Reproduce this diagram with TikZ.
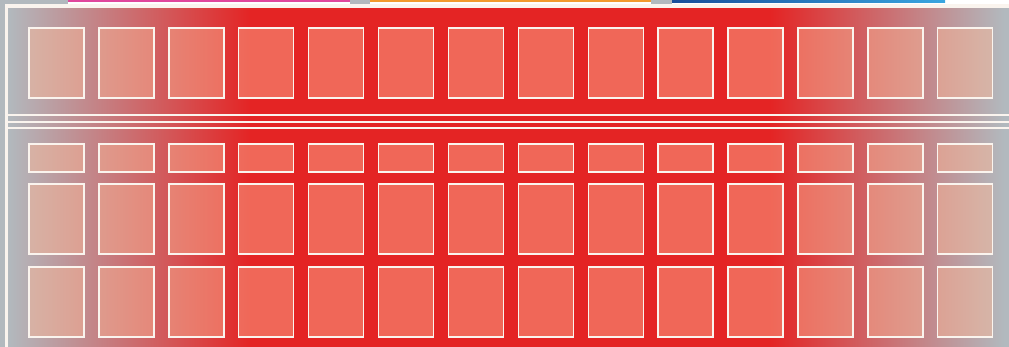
\documentclass[tikz,border=0pt]{standalone}
\usepackage{xcolor}
\usepackage{tikz}
\definecolor{redmain}{HTML}{E42424}
\definecolor{grayedge}{HTML}{B2B9BE}
\definecolor{salmonlight}{HTML}{FFBA98}
\definecolor{whiteline}{HTML}{FAF4EE}
\definecolor{pinkbar}{HTML}{E0479C}
\definecolor{orangebar}{HTML}{F29A2E}
\definecolor{bluedark}{HTML}{1A4E9A}
\definecolor{bluelight}{HTML}{3AA6E0}
\tikzset{cell/.style={draw=whiteline,line width=1.4pt,fill=salmonlight,fill opacity=0.45}}

\begin{document}
\begin{tikzpicture}[x=1pt,y=-1pt]
  \useasboundingbox (0,0) rectangle (1009,347);
  % strip of the panel above
  \fill[grayedge] (0,0) rectangle (1009,347);
  \foreach \xa/\xb/\col in {68/350/pinkbar,370/651/orangebar} {
    \fill[white] (\xa,0) rectangle (\xb,4.5);
    \fill[\col] (\xa,0) rectangle (\xb,2.2);
  }
  \fill[white] (672,0) rectangle (1009,4.5);
  \shade[left color=bluedark,right color=bluelight] (672,0) rectangle (945,2.2);
  % red ground fading to gray at the sides
  \shade[left color=grayedge,right color=redmain] (8,8) rectangle (251,347);
  \fill[redmain] (250,8) rectangle (771,347);
  \shade[left color=redmain,right color=grayedge] (770,8) rectangle (1004,347);
  % frame
  \fill[whiteline] (5,4.5) rectangle (1009,8);
  \fill[whiteline] (5,4.5) rectangle (8,347);
  \foreach \y in {114.7,121.7,128}
    \draw[whiteline,line width=2.2pt] (8,\y) -- (1009,\y);
  % cells
  \foreach \i in {0,...,13} {
    \foreach \ya/\yb in {28/98,144/172,184/254,267/337}
      \draw[cell] ({29+69.9*\i},\ya) rectangle ++(55,\yb-\ya);
  }
\end{tikzpicture}
\end{document}
